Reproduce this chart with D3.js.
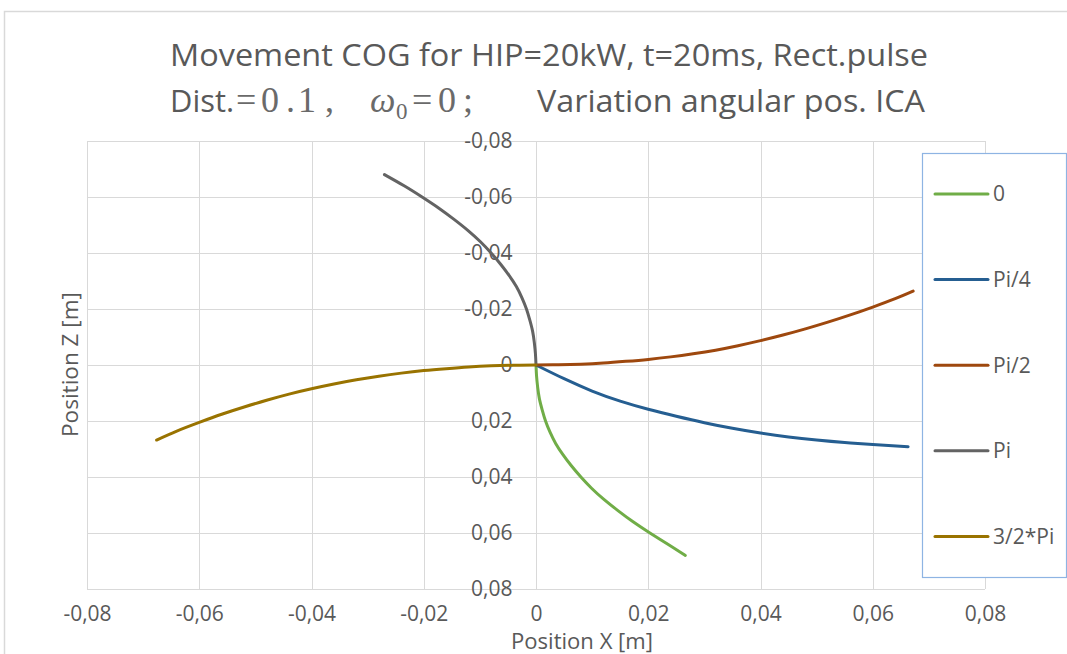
<!DOCTYPE html>
<html>
<head>
<meta charset="utf-8">
<script src="https://cdn.jsdelivr.net/npm/d3@7"></script>
<style>
  body { margin: 0; background: #fff; }
  svg { display: block; }
</style>
</head>
<body>
<svg id="chart" width="1067" height="654"></svg>
<script>
// Centre-of-gravity trajectories for different angular positions of the ICA
const seriesNames = ["0", "Pi/4", "Pi/2", "Pi", "3/2*Pi"];
const seriesColors = ["#70ad47", "#255e91", "#9e480e", "#636363", "#997300"];

// angular position 0
const x0 = [0, 0.0001, 0.0003, 0.0006, 0.0011, 0.0017, 0.0025, 0.0035, 0.0048, 0.0063, 0.0080, 0.0099, 0.0121, 0.0146, 0.0173, 0.0203, 0.0235, 0.0266];
const z0 = [0, 0.004, 0.008, 0.012, 0.016, 0.020, 0.024, 0.028, 0.032, 0.036, 0.040, 0.044, 0.048, 0.052, 0.056, 0.060, 0.064, 0.068];

// angular position Pi/4
const xPi4 = [0, 0.005, 0.010, 0.015, 0.020, 0.025, 0.030, 0.035, 0.040, 0.045, 0.050, 0.055, 0.060, 0.0663];
const zPi4 = [0, 0.0049, 0.0093, 0.0129, 0.0158, 0.0183, 0.0206, 0.0226, 0.0243, 0.0257, 0.0268, 0.0277, 0.0284, 0.0292];

// angular position Pi/2
const xPi2 = [0, 0.004, 0.008, 0.012, 0.016, 0.020, 0.024, 0.028, 0.032, 0.036, 0.040, 0.044, 0.048, 0.052, 0.056, 0.060, 0.064, 0.0672];
const zPi2 = [0, -0.0001, -0.0003, -0.0007, -0.0013, -0.0020, -0.0029, -0.0040, -0.0053, -0.0069, -0.0087, -0.0107, -0.0129, -0.0153, -0.0179, -0.0207, -0.0237, -0.0264];

// angular position Pi
const xPi = [0, -0.0001, -0.0003, -0.0006, -0.0011, -0.0017, -0.0025, -0.0035, -0.0048, -0.0063, -0.0080, -0.0099, -0.0121, -0.0146, -0.0173, -0.0203, -0.0235, -0.0270];
const zPi = [0, -0.004, -0.008, -0.012, -0.016, -0.020, -0.024, -0.028, -0.032, -0.036, -0.040, -0.044, -0.048, -0.052, -0.056, -0.060, -0.064, -0.068];

// angular position 3/2*Pi
const x3Pi2 = [0, -0.004, -0.008, -0.012, -0.016, -0.020, -0.024, -0.028, -0.032, -0.036, -0.040, -0.044, -0.048, -0.052, -0.056, -0.060, -0.064, -0.0676];
const z3Pi2 = [0, 0.0001, 0.0003, 0.0007, 0.0013, 0.0020, 0.0029, 0.0040, 0.0053, 0.0068, 0.0085, 0.0104, 0.0126, 0.0150, 0.0176, 0.0205, 0.0236, 0.0268];

const xTicks = [-0.08, -0.06, -0.04, -0.02, 0, 0.02, 0.04, 0.06, 0.08];
const xTickLabels = ["-0,08", "-0,06", "-0,04", "-0,02", "0", "0,02", "0,04", "0,06", "0,08"];
const zTicks = [-0.08, -0.06, -0.04, -0.02, 0, 0.02, 0.04, 0.06, 0.08];
const zTickLabels = ["-0,08", "-0,06", "-0,04", "-0,02", "0", "0,02", "0,04", "0,06", "0,08"];

const seriesX = [x0, xPi4, xPi2, xPi, x3Pi2];
const seriesZ = [z0, zPi4, zPi2, zPi, z3Pi2];

const FONT = "'Open Sans', 'Noto Sans', sans-serif";
const TEXT = "#595959";
const GRID = "#d9d9d9";

const svg = d3.select("#chart");
const plot = { left: 87, right: 985, top: 141, bottom: 589 };

// outer chart frame
svg.append("rect")
  .attr("x", 4.5).attr("y", 11.5)
  .attr("width", 1100).attr("height", 700)
  .attr("fill", "#fff").attr("stroke", GRID).attr("stroke-width", 1.5);

const x = d3.scaleLinear().domain([-0.08, 0.08]).range([plot.left, plot.right]);
const z = d3.scaleLinear().domain([-0.08, 0.08]).range([plot.top, plot.bottom]);

// gridlines
const grid = svg.append("g").attr("stroke", GRID).attr("stroke-width", 1);
grid.selectAll("line.v").data(xTicks).join("line")
  .attr("x1", d => Math.round(x(d)) + 0.5).attr("x2", d => Math.round(x(d)) + 0.5)
  .attr("y1", plot.top).attr("y2", plot.bottom);
grid.selectAll("line.h").data(zTicks).join("line")
  .attr("y1", d => Math.round(z(d)) + 0.5).attr("y2", d => Math.round(z(d)) + 0.5)
  .attr("x1", plot.left).attr("x2", plot.right);

// axes
const xAxis = d3.axisBottom(x).tickValues(xTicks)
  .tickFormat((d, i) => xTickLabels[i]).tickSize(0).tickPadding(17);
const gx = svg.append("g").attr("transform", `translate(0,${plot.bottom})`).call(xAxis);
gx.select(".domain").remove();
gx.selectAll("text").attr("fill", TEXT).style("font-family", FONT).style("font-size", "21px");

const zAxis = d3.axisLeft(z).tickValues(zTicks)
  .tickFormat((d, i) => zTickLabels[i]).tickSize(0).tickPadding(24);
const gz = svg.append("g").attr("transform", `translate(${Math.round(x(0)) + 0.5},0)`).call(zAxis);
gz.select(".domain").remove();
gz.selectAll("text").attr("fill", TEXT).style("font-family", FONT).style("font-size", "21px");

// series
const line = d3.line().curve(d3.curveNatural);
seriesNames.forEach((name, i) => {
  const pts = seriesX[i].map((v, j) => [x(v), z(seriesZ[i][j])]);
  svg.append("path")
    .attr("d", line(pts))
    .attr("fill", "none")
    .attr("stroke", seriesColors[i])
    .attr("stroke-width", 3)
    .attr("stroke-linecap", "round")
    .attr("stroke-linejoin", "round");
});

// legend
const lg = svg.append("g");
lg.append("rect")
  .attr("x", 922.5).attr("y", 153.5).attr("width", 144).attr("height", 424)
  .attr("fill", "#fff").attr("stroke", "#8eb4e3").attr("stroke-width", 1.2);
const legendItems = lg.selectAll("g.item").data(seriesNames).join("g")
  .attr("transform", (d, i) => `translate(0,${194 + i * 85.6})`);
legendItems.append("line")
  .attr("x1", 935).attr("x2", 988).attr("y1", 0).attr("y2", 0)
  .attr("stroke", (d, i) => seriesColors[i]).attr("stroke-width", 3)
  .attr("stroke-linecap", "round");
legendItems.append("text")
  .attr("x", 993).attr("y", 0).attr("dy", "0.35em")
  .attr("fill", TEXT).style("font-family", FONT).style("font-size", "21px")
  .text(d => d);

// axis titles
svg.append("text")
  .attr("x", 511).attr("y", 649)
  .attr("fill", TEXT).style("font-family", FONT).style("font-size", "21px")
  .attr("textLength", 142).attr("lengthAdjust", "spacingAndGlyphs")
  .text("Position X [m]");
svg.append("text")
  .attr("transform", "translate(78,437) rotate(-90)")
  .attr("fill", TEXT).style("font-family", FONT).style("font-size", "21px")
  .attr("textLength", 145).attr("lengthAdjust", "spacingAndGlyphs")
  .text("Position Z [m]");

// title
svg.append("text")
  .attr("x", 170).attr("y", 66)
  .attr("fill", TEXT).style("font-family", FONT).style("font-size", "31px")
  .attr("textLength", 758).attr("lengthAdjust", "spacingAndGlyphs")
  .text("Movement COG for HIP=20kW, t=20ms, Rect.pulse");

const t2 = svg.append("g").attr("fill", TEXT);
t2.append("text").attr("x", 170).attr("y", 112)
  .style("font-family", FONT).style("font-size", "31px")
  .attr("textLength", 64).attr("lengthAdjust", "spacingAndGlyphs")
  .text("Dist.");
const MATH = "'Liberation Serif', 'DejaVu Serif', serif";
const mathParts = [
  { t: "=", x: 236, size: 36 },
  { t: "0", x: 261, size: 36 },
  { t: ".", x: 286, size: 36 },
  { t: "1", x: 298, size: 36 },
  { t: ",", x: 325, size: 36 },
  { t: "ω", x: 370, size: 36, italic: true },
  { t: "0", x: 396, size: 23, dy: 7 },
  { t: "=", x: 412, size: 36 },
  { t: "0", x: 438, size: 36 },
  { t: ";", x: 463, size: 36 }
];
mathParts.forEach(p => {
  t2.append("text").attr("x", p.x).attr("y", 112 + (p.dy || 0))
    .attr("fill", "#6a6a6a")
    .style("font-family", MATH).style("font-size", p.size + "px")
    .style("font-style", p.italic ? "italic" : "normal")
    .text(p.t);
});
t2.append("text").attr("x", 537).attr("y", 112)
  .style("font-family", FONT).style("font-size", "31px")
  .attr("textLength", 388).attr("lengthAdjust", "spacingAndGlyphs")
  .text("Variation angular pos. ICA");
</script>
</body>
</html>
